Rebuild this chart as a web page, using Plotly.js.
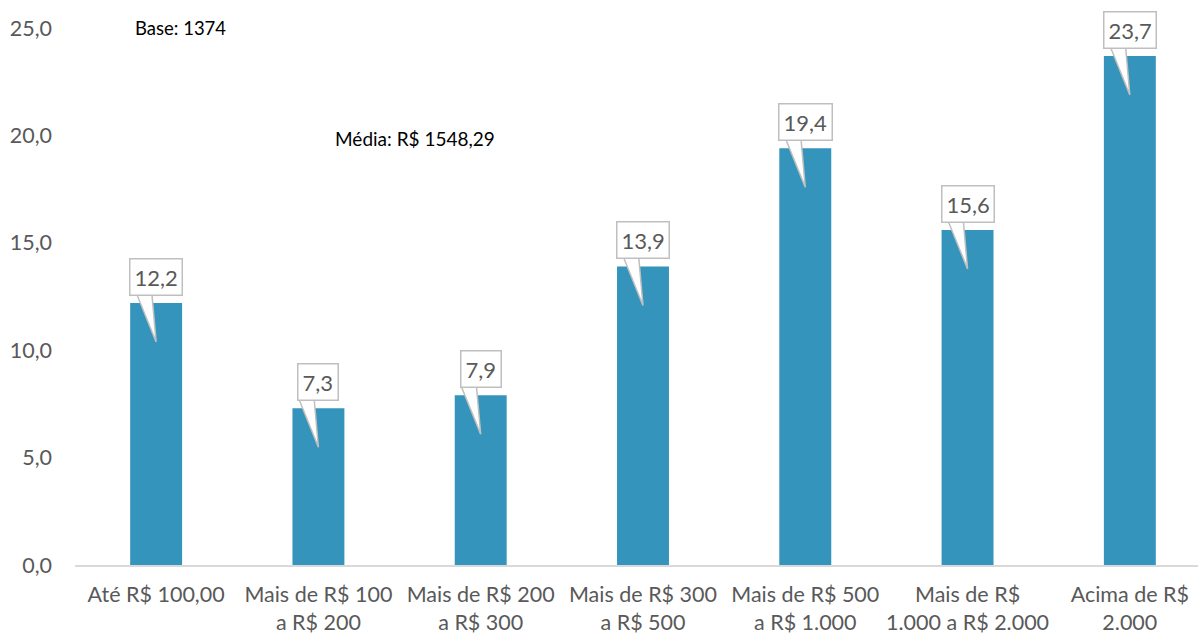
<!DOCTYPE html>
<html><head><meta charset="utf-8">
<script src="https://cdn.plot.ly/plotly-3.0.1.min.js"></script>
<style>html,body{margin:0;padding:0;background:#fff}#c{width:1198px;height:634px}</style>
</head><body><div id="c"></div>
<script>
const categories = ["Até R$ 100,00","Mais de R$ 100<br>a R$ 200","Mais de R$ 200<br>a R$ 300","Mais de R$ 300<br>a R$ 500","Mais de R$ 500<br>a R$ 1.000","Mais de R$<br>1.000 a R$ 2.000","Acima de R$<br>2.000"];
const values = [12.2, 7.3, 7.9, 13.9, 19.4, 15.6, 23.7];
const noteBase = "Base: 1374";
const noteMedia = "Média: R$ 1548,29";

const FONT = "Lato, 'Open Sans', sans-serif";
const pxPerUnit = 537/25;
const idx = categories.map((_, i) => i);

const shapes = [];
const annotations = [];
values.forEach((v, i) => {
  const boxBottom = v + 7/pxPerUnit;
  const tipY = v - 39/pxPerUnit;
  shapes.push({
    type: 'path', xref: 'x', yref: 'y', layer: 'above',
    path: `M ${i-0.115} ${boxBottom+0.3} L ${i-0.115} ${boxBottom} L ${i} ${tipY} L ${i-0.025} ${boxBottom} L ${i-0.025} ${boxBottom+0.3} Z`,
    fillcolor: '#ffffff', line: {color: '#bfbfbf', width: 1.5}
  });
  annotations.push({
    x: i, y: v, xref: 'x', yref: 'y', yshift: 26, showarrow: false,
    text: v.toFixed(1).replace('.', ','),
    font: {family: FONT, size: 22, color: '#595959'},
    bgcolor: '#ffffff', bordercolor: '#bfbfbf', borderwidth: 1.5, borderpad: 4
  });
});
annotations.push({xref:'paper', yref:'paper', x:0.0516, y:1.0, xanchor:'left', yanchor:'middle', showarrow:false,
  text: noteBase, font:{family:FONT, size:18.5, color:'#000'}});
annotations.push({xref:'paper', yref:'paper', x:0.2297, y:0.795, xanchor:'left', yanchor:'middle', showarrow:false,
  text: noteMedia, font:{family:FONT, size:19, color:'#000'}});

Plotly.newPlot('c', [{
  type: 'bar', x: idx, y: values, width: 0.32,
  marker: {color: '#3594BC'}, hoverinfo: 'none'
}], {
  width: 1198, height: 634,
  margin: {l: 75, r: 0, t: 28, b: 69},
  separators: ',.',
  paper_bgcolor: '#fff', plot_bgcolor: '#fff',
  showlegend: false,
  xaxis: {
    range: [-0.5, 6.42], tickmode: 'array', tickvals: idx, ticktext: categories,
    showline: true, linecolor: '#d9d9d9', linewidth: 1.5, showgrid: false, zeroline: false,
    ticks: '', ticklabelstandoff: 10, tickfont: {family: FONT, size: 21.5, color: '#595959'}
  },
  yaxis: {
    range: [0, 25], dtick: 5, tickformat: '.1f', showgrid: false, zeroline: false,
    showline: false, ticks: '', ticklabelstandoff: 22,
    tickfont: {family: FONT, size: 21.5, color: '#595959'}
  },
  shapes: shapes, annotations: annotations
}, {displayModeBar: false, staticPlot: true});
</script></body></html>
